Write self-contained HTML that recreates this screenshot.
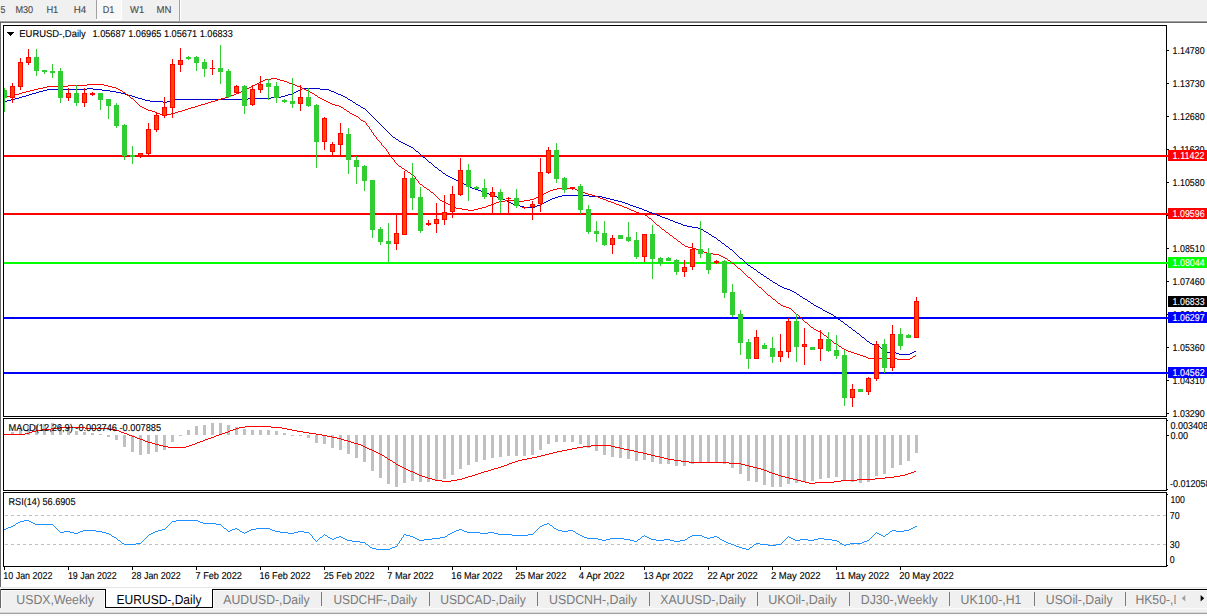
<!DOCTYPE html>
<html><head><meta charset="utf-8"><title>EURUSD-,Daily</title>
<style>html,body{margin:0;padding:0;background:#fff;overflow:hidden}svg{display:block}text{font-family:"Liberation Sans",sans-serif}</style>
</head><body>
<svg width="1207" height="616" viewBox="0 0 1207 616" shape-rendering="crispEdges" font-family="Liberation Sans, sans-serif">
<rect x="0" y="0" width="1207" height="616" fill="#fff" />
<rect x="0" y="0" width="1207" height="21" fill="#f0f0f0" />
<rect x="0" y="20" width="1207" height="1" fill="#f6f6f6" />
<rect x="0" y="21" width="1207" height="1" fill="#a0a0a0" />
<rect x="0" y="22" width="1207" height="1" fill="#696969" />
<rect x="97" y="0" width="24" height="19" fill="#f8f8f8" />
<rect x="96" y="0" width="1" height="19" fill="#a0a0a0" />
<rect x="96" y="19" width="26" height="1" fill="#fff" />
<rect x="121" y="0" width="1" height="20" fill="#fff" />
<rect x="179" y="0" width="1" height="22" fill="#a0a0a0" />
<rect x="180" y="0" width="1" height="21" fill="#fff" />
<text x="0.5" y="13" font-size="10" fill="#4a4a4a" stroke="#4a4a4a" stroke-width="0.12" text-anchor="start" textLength="4.9" lengthAdjust="spacingAndGlyphs"  text-rendering="geometricPrecision" xml:space="preserve">5</text>
<text x="15.4" y="13" font-size="10" fill="#4a4a4a" stroke="#4a4a4a" stroke-width="0.12" text-anchor="start" textLength="17.7" lengthAdjust="spacingAndGlyphs"  text-rendering="geometricPrecision" xml:space="preserve">M30</text>
<text x="46.4" y="13" font-size="10" fill="#4a4a4a" stroke="#4a4a4a" stroke-width="0.12" text-anchor="start" textLength="11.9" lengthAdjust="spacingAndGlyphs"  text-rendering="geometricPrecision" xml:space="preserve">H1</text>
<text x="73.7" y="13" font-size="10" fill="#4a4a4a" stroke="#4a4a4a" stroke-width="0.12" text-anchor="start" textLength="12.5" lengthAdjust="spacingAndGlyphs"  text-rendering="geometricPrecision" xml:space="preserve">H4</text>
<text x="102.7" y="13" font-size="10" fill="#4a4a4a" stroke="#4a4a4a" stroke-width="0.12" text-anchor="start" textLength="11.6" lengthAdjust="spacingAndGlyphs"  text-rendering="geometricPrecision" xml:space="preserve">D1</text>
<text x="130" y="13" font-size="10" fill="#4a4a4a" stroke="#4a4a4a" stroke-width="0.12" text-anchor="start" textLength="14.2" lengthAdjust="spacingAndGlyphs"  text-rendering="geometricPrecision" xml:space="preserve">W1</text>
<text x="156.6" y="13" font-size="10" fill="#4a4a4a" stroke="#4a4a4a" stroke-width="0.12" text-anchor="start" textLength="14.9" lengthAdjust="spacingAndGlyphs"  text-rendering="geometricPrecision" xml:space="preserve">MN</text>
<rect x="0" y="23" width="1" height="564" fill="#696969" />
<clipPath id="cm"><rect x="4" y="26" width="1162" height="390"/></clipPath>
<clipPath id="c2"><rect x="4" y="419" width="1162" height="71"/></clipPath>
<clipPath id="c3"><rect x="4" y="493" width="1162" height="73"/></clipPath>
<g clip-path="url(#cm)">
<rect x="4" y="155" width="1163" height="2" fill="#ff0000" />
<rect x="4" y="213" width="1163" height="2" fill="#ff0000" />
<rect x="4" y="262" width="1163" height="2" fill="#00ff00" />
<rect x="4" y="317" width="1163" height="2" fill="#0000ff" />
<rect x="4" y="372" width="1163" height="2" fill="#0000ff" />
<path fill="#0000cd" d="M87 88h6v1h-6zM302 88h18v1h-18zM47 89h40v1h-40zM93 89h9v1h-9zM300 89h2v1h-2zM320 89h9v1h-9zM43 90h4v1h-4zM102 90h8v1h-8zM298 90h2v1h-2zM329 90h2v1h-2zM39 91h4v1h-4zM110 91h6v1h-6zM296 91h2v1h-2zM331 91h3v1h-3zM36 92h3v1h-3zM116 92h5v1h-5zM294 92h2v1h-2zM334 92h2v1h-2zM32 93h4v1h-4zM121 93h4v1h-4zM292 93h2v1h-2zM336 93h2v1h-2zM29 94h3v1h-3zM125 94h3v1h-3zM288 94h4v1h-4zM338 94h3v1h-3zM26 95h3v1h-3zM128 95h4v1h-4zM285 95h3v1h-3zM341 95h2v1h-2zM22 96h4v1h-4zM132 96h3v1h-3zM281 96h4v1h-4zM343 96h2v1h-2zM19 97h3v1h-3zM135 97h3v1h-3zM271 97h10v1h-10zM345 97h2v1h-2zM15 98h4v1h-4zM138 98h4v1h-4zM248 98h23v1h-23zM347 98h1v1h-1zM11 99h4v1h-4zM142 99h3v1h-3zM175 99h73v1h-73zM348 99h2v1h-2zM7 100h4v1h-4zM145 100h5v1h-5zM171 100h4v1h-4zM350 100h2v1h-2zM4 101h3v1h-3zM150 101h13v1h-13zM167 101h4v1h-4zM352 101h1v1h-1zM163 102h4v1h-4zM353 102h2v1h-2zM355 103h1v1h-1zM356 104h2v1h-2zM358 105h2v1h-2zM360 106h1v1h-1zM361 107h2v1h-2zM363 108h2v1h-2zM365 109h1v1h-1zM366 110h1v1h-1zM367 111h1v1h-1zM368 112h1v1h-1zM369 113h1v1h-1zM370 114h1v1h-1zM371 115h1v1h-1zM372 116h1v1h-1zM373 117h1v1h-1zM374 118h1v1h-1zM375 119h1v1h-1zM376 120h1v1h-1zM377 121h1v1h-1zM378 122h1v1h-1zM379 123h1v1h-1zM380 124h1v1h-1zM381 125h1v1h-1zM382 126h1v1h-1zM383 127h1v1h-1zM384 128h1v1h-1zM385 129h1v1h-1zM386 130h1v1h-1zM387 131h1v1h-1zM388 132h1v1h-1zM389 133h1v1h-1zM390 134h1v1h-1zM391 135h1v1h-1zM392 136h1v1h-1zM393 137h2v1h-2zM395 138h1v1h-1zM396 139h2v1h-2zM398 140h1v1h-1zM399 141h2v1h-2zM401 142h2v1h-2zM403 143h2v1h-2zM405 144h2v1h-2zM407 145h2v1h-2zM409 146h2v1h-2zM411 147h2v1h-2zM413 148h1v1h-1zM414 149h1v1h-1zM415 150h1v1h-1zM416 151h2v1h-2zM418 152h1v1h-1zM419 153h1v1h-1zM420 154h1v1h-1zM421 155h1v1h-1zM422 156h1v1h-1zM423 157h2v1h-2zM425 158h1v1h-1zM426 159h1v1h-1zM427 160h1v1h-1zM428 161h1v1h-1zM429 162h2v1h-2zM431 163h1v1h-1zM432 164h1v1h-1zM433 165h1v1h-1zM434 166h1v1h-1zM435 167h2v1h-2zM437 168h1v1h-1zM438 169h1v1h-1zM439 170h2v1h-2zM441 171h1v1h-1zM442 172h1v1h-1zM443 173h2v1h-2zM445 174h1v1h-1zM446 175h2v1h-2zM448 176h2v1h-2zM450 177h2v1h-2zM452 178h2v1h-2zM454 179h2v1h-2zM456 180h2v1h-2zM458 181h2v1h-2zM460 182h2v1h-2zM462 183h2v1h-2zM464 184h2v1h-2zM466 185h2v1h-2zM468 186h2v1h-2zM470 187h2v1h-2zM472 188h3v1h-3zM475 189h3v1h-3zM478 190h3v1h-3zM481 191h2v1h-2zM483 192h3v1h-3zM486 193h3v1h-3zM489 194h3v1h-3zM492 195h3v1h-3zM562 195h27v1h-27zM495 196h2v1h-2zM558 196h4v1h-4zM589 196h13v1h-13zM497 197h3v1h-3zM555 197h3v1h-3zM602 197h4v1h-4zM500 198h3v1h-3zM552 198h3v1h-3zM606 198h4v1h-4zM503 199h2v1h-2zM550 199h2v1h-2zM610 199h4v1h-4zM505 200h2v1h-2zM548 200h2v1h-2zM614 200h4v1h-4zM507 201h2v1h-2zM546 201h2v1h-2zM618 201h4v1h-4zM509 202h2v1h-2zM544 202h2v1h-2zM622 202h3v1h-3zM511 203h2v1h-2zM542 203h2v1h-2zM625 203h3v1h-3zM513 204h3v1h-3zM540 204h2v1h-2zM628 204h2v1h-2zM516 205h4v1h-4zM537 205h3v1h-3zM630 205h3v1h-3zM520 206h4v1h-4zM535 206h2v1h-2zM633 206h3v1h-3zM524 207h11v1h-11zM636 207h3v1h-3zM639 208h3v1h-3zM642 209h2v1h-2zM644 210h3v1h-3zM647 211h2v1h-2zM649 212h3v1h-3zM652 213h3v1h-3zM655 214h2v1h-2zM657 215h3v1h-3zM660 216h2v1h-2zM662 217h3v1h-3zM665 218h3v1h-3zM668 219h2v1h-2zM670 220h3v1h-3zM673 221h2v1h-2zM675 222h3v1h-3zM678 223h3v1h-3zM681 224h2v1h-2zM683 225h4v1h-4zM687 226h5v1h-5zM692 227h6v1h-6zM698 228h3v1h-3zM701 229h2v1h-2zM703 230h1v1h-1zM704 231h2v1h-2zM706 232h2v1h-2zM708 233h1v1h-1zM709 234h2v1h-2zM711 235h1v1h-1zM712 236h2v1h-2zM714 237h2v1h-2zM716 238h1v1h-1zM717 239h1v1h-1zM718 240h2v1h-2zM720 241h1v1h-1zM721 242h1v1h-1zM722 243h2v1h-2zM724 244h1v1h-1zM725 245h1v1h-1zM726 246h2v1h-2zM728 247h1v1h-1zM729 248h1v1h-1zM730 249h2v1h-2zM732 250h1v1h-1zM733 251h1v1h-1zM734 252h1v1h-1zM735 253h1v1h-1zM736 254h1v1h-1zM737 255h1v1h-1zM738 256h1v1h-1zM739 257h1v1h-1zM740 258h2v1h-2zM742 259h1v1h-1zM743 260h1v1h-1zM744 261h1v1h-1zM745 262h1v1h-1zM746 263h1v1h-1zM747 264h1v1h-1zM748 265h2v1h-2zM750 266h1v1h-1zM751 267h2v1h-2zM753 268h1v1h-1zM754 269h2v1h-2zM756 270h1v1h-1zM757 271h1v1h-1zM758 272h2v1h-2zM760 273h1v1h-1zM761 274h2v1h-2zM763 275h1v1h-1zM764 276h2v1h-2zM766 277h1v1h-1zM767 278h2v1h-2zM769 279h1v1h-1zM770 280h2v1h-2zM772 281h1v1h-1zM773 282h2v1h-2zM775 283h2v1h-2zM777 284h1v1h-1zM778 285h2v1h-2zM780 286h2v1h-2zM782 287h2v1h-2zM784 288h3v1h-3zM787 289h3v1h-3zM790 290h2v1h-2zM792 291h2v1h-2zM794 292h2v1h-2zM796 293h1v1h-1zM797 294h2v1h-2zM799 295h1v1h-1zM800 296h2v1h-2zM802 297h1v1h-1zM803 298h2v1h-2zM805 299h2v1h-2zM807 300h1v1h-1zM808 301h2v1h-2zM810 302h1v1h-1zM811 303h2v1h-2zM813 304h1v1h-1zM814 305h2v1h-2zM816 306h2v1h-2zM818 307h2v1h-2zM820 308h2v1h-2zM822 309h1v1h-1zM823 310h2v1h-2zM825 311h2v1h-2zM827 312h2v1h-2zM829 313h2v1h-2zM831 314h2v1h-2zM833 315h1v1h-1zM834 316h2v1h-2zM836 317h1v1h-1zM837 318h1v1h-1zM838 319h2v1h-2zM840 320h1v1h-1zM841 321h2v1h-2zM843 322h1v1h-1zM844 323h1v1h-1zM845 324h2v1h-2zM847 325h1v1h-1zM848 326h1v1h-1zM849 327h2v1h-2zM851 328h1v1h-1zM852 329h1v1h-1zM853 330h2v1h-2zM855 331h1v1h-1zM856 332h1v1h-1zM857 333h2v1h-2zM859 334h1v1h-1zM860 335h1v1h-1zM861 336h1v1h-1zM862 337h2v1h-2zM864 338h1v1h-1zM865 339h1v1h-1zM866 340h1v1h-1zM867 341h2v1h-2zM869 342h1v1h-1zM870 343h2v1h-2zM872 344h4v1h-4zM876 345h3v1h-3zM879 346h1v1h-1zM880 347h1v1h-1zM881 348h1v1h-1zM882 349h2v1h-2zM884 350h1v1h-1zM885 351h1v1h-1zM914 351h2v1h-2zM886 352h10v1h-10zM912 352h2v1h-2zM896 353h3v1h-3zM910 353h2v1h-2zM899 354h11v1h-11z"/>
<path fill="#ff0000" d="M271 78h6v1h-6zM265 79h6v1h-6zM277 79h3v1h-3zM263 80h2v1h-2zM280 80h4v1h-4zM261 81h2v1h-2zM284 81h3v1h-3zM259 82h2v1h-2zM287 82h2v1h-2zM257 83h2v1h-2zM289 83h3v1h-3zM87 84h17v1h-17zM255 84h2v1h-2zM292 84h3v1h-3zM68 85h19v1h-19zM104 85h4v1h-4zM253 85h2v1h-2zM295 85h2v1h-2zM47 86h21v1h-21zM108 86h4v1h-4zM251 86h2v1h-2zM297 86h3v1h-3zM43 87h4v1h-4zM112 87h4v1h-4zM249 87h2v1h-2zM300 87h2v1h-2zM38 88h5v1h-5zM116 88h2v1h-2zM247 88h2v1h-2zM302 88h2v1h-2zM34 89h4v1h-4zM118 89h2v1h-2zM245 89h2v1h-2zM304 89h2v1h-2zM30 90h4v1h-4zM120 90h2v1h-2zM243 90h2v1h-2zM306 90h2v1h-2zM26 91h4v1h-4zM122 91h1v1h-1zM241 91h2v1h-2zM308 91h2v1h-2zM22 92h4v1h-4zM123 92h2v1h-2zM239 92h2v1h-2zM310 92h2v1h-2zM19 93h3v1h-3zM125 93h1v1h-1zM236 93h3v1h-3zM312 93h2v1h-2zM15 94h4v1h-4zM126 94h1v1h-1zM234 94h2v1h-2zM314 94h1v1h-1zM11 95h4v1h-4zM127 95h2v1h-2zM231 95h3v1h-3zM315 95h2v1h-2zM7 96h4v1h-4zM129 96h1v1h-1zM228 96h3v1h-3zM317 96h1v1h-1zM4 97h3v1h-3zM130 97h1v1h-1zM225 97h3v1h-3zM318 97h2v1h-2zM131 98h2v1h-2zM221 98h4v1h-4zM320 98h2v1h-2zM133 99h1v1h-1zM218 99h3v1h-3zM322 99h2v1h-2zM134 100h1v1h-1zM215 100h3v1h-3zM324 100h2v1h-2zM135 101h1v1h-1zM211 101h4v1h-4zM326 101h2v1h-2zM136 102h1v1h-1zM208 102h3v1h-3zM328 102h2v1h-2zM137 103h1v1h-1zM205 103h3v1h-3zM330 103h2v1h-2zM138 104h1v1h-1zM201 104h4v1h-4zM332 104h3v1h-3zM139 105h1v1h-1zM198 105h3v1h-3zM335 105h4v1h-4zM140 106h2v1h-2zM195 106h3v1h-3zM339 106h2v1h-2zM142 107h2v1h-2zM191 107h4v1h-4zM341 107h2v1h-2zM144 108h2v1h-2zM188 108h3v1h-3zM343 108h1v1h-1zM146 109h2v1h-2zM185 109h3v1h-3zM344 109h2v1h-2zM148 110h4v1h-4zM182 110h3v1h-3zM346 110h1v1h-1zM152 111h3v1h-3zM178 111h4v1h-4zM347 111h2v1h-2zM155 112h2v1h-2zM175 112h3v1h-3zM349 112h1v1h-1zM157 113h3v1h-3zM171 113h4v1h-4zM350 113h2v1h-2zM160 114h4v1h-4zM167 114h4v1h-4zM352 114h2v1h-2zM164 115h3v1h-3zM354 115h2v1h-2zM356 116h2v1h-2zM358 117h1v1h-1zM359 118h1v1h-1zM360 119h1v1h-1zM361 120h2v1h-2zM363 121h2v1h-2zM365 122h1v1h-1zM366 123h1v1h-1zM366 124h1v1h-1zM367 125h1v1h-1zM368 126h1v1h-1zM369 127h1v1h-1zM369 128h1v1h-1zM370 129h1v1h-1zM371 130h1v1h-1zM371 131h1v1h-1zM372 132h1v1h-1zM373 133h1v1h-1zM373 134h1v1h-1zM374 135h1v1h-1zM375 136h1v1h-1zM376 137h1v1h-1zM376 138h1v1h-1zM377 139h1v1h-1zM378 140h1v1h-1zM379 141h1v1h-1zM380 142h1v1h-1zM381 143h1v1h-1zM381 144h1v1h-1zM382 145h1v1h-1zM383 146h1v1h-1zM384 147h1v1h-1zM385 148h1v1h-1zM386 149h1v1h-1zM386 150h1v1h-1zM387 151h1v1h-1zM388 152h1v1h-1zM388 153h1v1h-1zM389 154h1v1h-1zM389 155h1v1h-1zM390 156h1v1h-1zM391 157h1v1h-1zM392 158h1v1h-1zM393 159h1v1h-1zM394 160h1v1h-1zM394 161h1v1h-1zM395 162h1v1h-1zM396 163h1v1h-1zM397 164h1v1h-1zM398 165h1v1h-1zM399 166h2v1h-2zM401 167h1v1h-1zM402 168h2v1h-2zM404 169h1v1h-1zM405 170h2v1h-2zM407 171h1v1h-1zM408 172h2v1h-2zM410 173h1v1h-1zM411 174h2v1h-2zM413 175h1v1h-1zM414 176h1v1h-1zM415 177h1v1h-1zM415 178h1v1h-1zM416 179h1v1h-1zM417 180h1v1h-1zM418 181h1v1h-1zM418 182h1v1h-1zM419 183h1v1h-1zM420 184h2v1h-2zM422 185h1v1h-1zM423 186h1v1h-1zM424 187h2v1h-2zM426 188h1v1h-1zM557 188h18v1h-18zM427 189h2v1h-2zM553 189h4v1h-4zM575 189h2v1h-2zM429 190h1v1h-1zM550 190h3v1h-3zM577 190h3v1h-3zM430 191h1v1h-1zM548 191h2v1h-2zM580 191h3v1h-3zM431 192h2v1h-2zM546 192h2v1h-2zM583 192h2v1h-2zM433 193h1v1h-1zM544 193h2v1h-2zM585 193h3v1h-3zM434 194h1v1h-1zM542 194h2v1h-2zM588 194h4v1h-4zM435 195h1v1h-1zM540 195h2v1h-2zM592 195h3v1h-3zM436 196h1v1h-1zM538 196h2v1h-2zM595 196h3v1h-3zM437 197h1v1h-1zM536 197h2v1h-2zM598 197h2v1h-2zM438 198h1v1h-1zM534 198h2v1h-2zM600 198h3v1h-3zM439 199h1v1h-1zM530 199h4v1h-4zM603 199h3v1h-3zM440 200h2v1h-2zM505 200h10v1h-10zM524 200h6v1h-6zM606 200h2v1h-2zM442 201h2v1h-2zM499 201h6v1h-6zM515 201h9v1h-9zM608 201h3v1h-3zM444 202h2v1h-2zM496 202h3v1h-3zM611 202h3v1h-3zM446 203h2v1h-2zM494 203h2v1h-2zM614 203h2v1h-2zM448 204h2v1h-2zM491 204h3v1h-3zM616 204h3v1h-3zM450 205h1v1h-1zM488 205h3v1h-3zM619 205h3v1h-3zM451 206h2v1h-2zM486 206h2v1h-2zM622 206h2v1h-2zM453 207h3v1h-3zM482 207h4v1h-4zM624 207h3v1h-3zM456 208h6v1h-6zM478 208h4v1h-4zM627 208h2v1h-2zM462 209h6v1h-6zM474 209h4v1h-4zM629 209h2v1h-2zM468 210h6v1h-6zM631 210h3v1h-3zM634 211h2v1h-2zM636 212h3v1h-3zM639 213h3v1h-3zM642 214h3v1h-3zM645 215h2v1h-2zM647 216h1v1h-1zM648 217h1v1h-1zM649 218h2v1h-2zM651 219h1v1h-1zM652 220h1v1h-1zM653 221h1v1h-1zM654 222h1v1h-1zM655 223h1v1h-1zM656 224h1v1h-1zM657 225h2v1h-2zM659 226h1v1h-1zM660 227h1v1h-1zM661 228h1v1h-1zM662 229h2v1h-2zM664 230h1v1h-1zM665 231h1v1h-1zM666 232h2v1h-2zM668 233h1v1h-1zM669 234h1v1h-1zM670 235h2v1h-2zM672 236h1v1h-1zM673 237h1v1h-1zM674 238h2v1h-2zM676 239h1v1h-1zM677 240h1v1h-1zM678 241h2v1h-2zM680 242h1v1h-1zM681 243h1v1h-1zM682 244h2v1h-2zM684 245h1v1h-1zM685 246h3v1h-3zM688 247h4v1h-4zM692 248h4v1h-4zM696 249h3v1h-3zM699 250h2v1h-2zM701 251h3v1h-3zM704 252h3v1h-3zM707 253h6v1h-6zM713 254h6v1h-6zM719 255h2v1h-2zM721 256h2v1h-2zM723 257h2v1h-2zM725 258h2v1h-2zM727 259h1v1h-1zM728 260h2v1h-2zM730 261h1v1h-1zM731 262h1v1h-1zM732 263h2v1h-2zM734 264h1v1h-1zM735 265h1v1h-1zM736 266h1v1h-1zM737 267h1v1h-1zM738 268h2v1h-2zM740 269h1v1h-1zM741 270h1v1h-1zM742 271h1v1h-1zM743 272h1v1h-1zM744 273h1v1h-1zM745 274h1v1h-1zM746 275h1v1h-1zM747 276h1v1h-1zM748 277h2v1h-2zM750 278h1v1h-1zM751 279h1v1h-1zM752 280h1v1h-1zM753 281h1v1h-1zM754 282h1v1h-1zM755 283h1v1h-1zM756 284h1v1h-1zM757 285h1v1h-1zM758 286h1v1h-1zM759 287h2v1h-2zM761 288h1v1h-1zM762 289h1v1h-1zM763 290h1v1h-1zM764 291h1v1h-1zM765 292h1v1h-1zM766 293h1v1h-1zM767 294h1v1h-1zM768 295h2v1h-2zM770 296h1v1h-1zM771 297h1v1h-1zM772 298h1v1h-1zM773 299h2v1h-2zM775 300h1v1h-1zM776 301h1v1h-1zM777 302h1v1h-1zM778 303h2v1h-2zM780 304h1v1h-1zM781 305h2v1h-2zM783 306h3v1h-3zM786 307h3v1h-3zM789 308h2v1h-2zM791 309h1v1h-1zM792 310h1v1h-1zM793 311h1v1h-1zM794 312h1v1h-1zM795 313h1v1h-1zM796 314h2v1h-2zM798 315h1v1h-1zM799 316h1v1h-1zM800 317h1v1h-1zM801 318h1v1h-1zM802 319h1v1h-1zM803 320h1v1h-1zM804 321h1v1h-1zM805 322h2v1h-2zM807 323h1v1h-1zM808 324h1v1h-1zM809 325h1v1h-1zM810 326h1v1h-1zM811 327h2v1h-2zM813 328h1v1h-1zM814 329h2v1h-2zM816 330h2v1h-2zM818 331h2v1h-2zM820 332h2v1h-2zM822 333h1v1h-1zM823 334h1v1h-1zM824 335h2v1h-2zM826 336h1v1h-1zM827 337h1v1h-1zM828 338h1v1h-1zM829 339h1v1h-1zM830 340h2v1h-2zM832 341h1v1h-1zM833 342h1v1h-1zM834 343h2v1h-2zM836 344h2v1h-2zM838 345h1v1h-1zM839 346h2v1h-2zM841 347h1v1h-1zM842 348h2v1h-2zM844 349h2v1h-2zM846 350h2v1h-2zM848 351h3v1h-3zM851 352h3v1h-3zM854 353h3v1h-3zM857 354h3v1h-3zM860 355h3v1h-3zM915 355h1v1h-1zM863 356h3v1h-3zM913 356h2v1h-2zM866 357h2v1h-2zM912 357h1v1h-1zM868 358h29v1h-29zM910 358h2v1h-2zM897 359h13v1h-13z"/>
<rect x="4" y="88" width="1" height="24" fill="#32cd32" />
<rect x="2" y="90" width="5" height="8" fill="#32cd32" />
<rect x="12" y="83" width="1" height="20" fill="#ff0000" />
<rect x="10" y="86" width="5" height="12" fill="#ff0000" />
<rect x="11" y="87" width="3" height="10" fill="#ff4500" />
<rect x="20" y="58" width="1" height="32" fill="#ff0000" />
<rect x="18" y="62" width="5" height="25" fill="#ff0000" />
<rect x="19" y="63" width="3" height="23" fill="#ff4500" />
<rect x="28" y="49" width="1" height="16" fill="#ff0000" />
<rect x="26" y="57" width="5" height="6" fill="#ff0000" />
<rect x="27" y="58" width="3" height="4" fill="#ff4500" />
<rect x="36" y="49" width="1" height="27" fill="#32cd32" />
<rect x="34" y="57" width="5" height="14" fill="#32cd32" />
<rect x="44" y="70" width="1" height="4" fill="#32cd32" />
<rect x="42" y="70" width="5" height="2" fill="#32cd32" />
<rect x="52" y="64" width="1" height="14" fill="#32cd32" />
<rect x="50" y="71" width="5" height="2" fill="#32cd32" />
<rect x="60" y="68" width="1" height="35" fill="#32cd32" />
<rect x="58" y="71" width="5" height="27" fill="#32cd32" />
<rect x="68" y="88" width="1" height="13" fill="#ff0000" />
<rect x="66" y="93" width="5" height="5" fill="#ff0000" />
<rect x="67" y="94" width="3" height="3" fill="#ff4500" />
<rect x="76" y="85" width="1" height="21" fill="#32cd32" />
<rect x="74" y="93" width="5" height="10" fill="#32cd32" />
<rect x="84" y="88" width="1" height="19" fill="#ff0000" />
<rect x="82" y="93" width="5" height="10" fill="#ff0000" />
<rect x="83" y="94" width="3" height="8" fill="#ff4500" />
<rect x="92" y="92" width="1" height="4" fill="#ff0000" />
<rect x="90" y="93" width="5" height="2" fill="#ff0000" />
<rect x="100" y="93" width="1" height="17" fill="#32cd32" />
<rect x="98" y="93" width="5" height="7" fill="#32cd32" />
<rect x="108" y="99" width="1" height="20" fill="#32cd32" />
<rect x="106" y="99" width="5" height="7" fill="#32cd32" />
<rect x="116" y="103" width="1" height="25" fill="#32cd32" />
<rect x="114" y="105" width="5" height="21" fill="#32cd32" />
<rect x="124" y="124" width="1" height="36" fill="#32cd32" />
<rect x="122" y="125" width="5" height="31" fill="#32cd32" />
<rect x="132" y="146" width="1" height="18" fill="#32cd32" />
<rect x="130" y="155" width="5" height="2" fill="#32cd32" />
<rect x="140" y="153" width="1" height="5" fill="#ff0000" />
<rect x="138" y="153" width="5" height="3" fill="#ff0000" />
<rect x="139" y="154" width="3" height="1" fill="#ff4500" />
<rect x="148" y="123" width="1" height="32" fill="#ff0000" />
<rect x="146" y="129" width="5" height="25" fill="#ff0000" />
<rect x="147" y="130" width="3" height="23" fill="#ff4500" />
<rect x="156" y="113" width="1" height="19" fill="#ff0000" />
<rect x="154" y="115" width="5" height="15" fill="#ff0000" />
<rect x="155" y="116" width="3" height="13" fill="#ff4500" />
<rect x="164" y="97" width="1" height="21" fill="#ff0000" />
<rect x="162" y="107" width="5" height="9" fill="#ff0000" />
<rect x="163" y="108" width="3" height="7" fill="#ff4500" />
<rect x="172" y="59" width="1" height="59" fill="#ff0000" />
<rect x="170" y="64" width="5" height="44" fill="#ff0000" />
<rect x="171" y="65" width="3" height="42" fill="#ff4500" />
<rect x="180" y="48" width="1" height="24" fill="#ff0000" />
<rect x="178" y="60" width="5" height="5" fill="#ff0000" />
<rect x="179" y="61" width="3" height="3" fill="#ff4500" />
<rect x="188" y="56" width="1" height="4" fill="#32cd32" />
<rect x="186" y="57" width="5" height="2" fill="#32cd32" />
<rect x="196" y="56" width="1" height="15" fill="#32cd32" />
<rect x="194" y="57" width="5" height="6" fill="#32cd32" />
<rect x="204" y="59" width="1" height="18" fill="#32cd32" />
<rect x="202" y="62" width="5" height="7" fill="#32cd32" />
<rect x="212" y="60" width="1" height="15" fill="#ff0000" />
<rect x="210" y="68" width="5" height="1" fill="#ff0000" />
<rect x="220" y="45" width="1" height="39" fill="#32cd32" />
<rect x="218" y="68" width="5" height="4" fill="#32cd32" />
<rect x="228" y="69" width="1" height="29" fill="#32cd32" />
<rect x="226" y="71" width="5" height="26" fill="#32cd32" />
<rect x="236" y="85" width="1" height="9" fill="#ff0000" />
<rect x="234" y="86" width="5" height="7" fill="#ff0000" />
<rect x="235" y="87" width="3" height="5" fill="#ff4500" />
<rect x="244" y="85" width="1" height="29" fill="#32cd32" />
<rect x="242" y="86" width="5" height="20" fill="#32cd32" />
<rect x="252" y="85" width="1" height="21" fill="#ff0000" />
<rect x="250" y="89" width="5" height="16" fill="#ff0000" />
<rect x="251" y="90" width="3" height="14" fill="#ff4500" />
<rect x="260" y="76" width="1" height="17" fill="#ff0000" />
<rect x="258" y="84" width="5" height="6" fill="#ff0000" />
<rect x="259" y="85" width="3" height="4" fill="#ff4500" />
<rect x="268" y="79" width="1" height="21" fill="#32cd32" />
<rect x="266" y="83" width="5" height="4" fill="#32cd32" />
<rect x="276" y="82" width="1" height="21" fill="#32cd32" />
<rect x="274" y="86" width="5" height="12" fill="#32cd32" />
<rect x="284" y="99" width="1" height="4" fill="#32cd32" />
<rect x="282" y="100" width="5" height="2" fill="#32cd32" />
<rect x="292" y="78" width="1" height="30" fill="#32cd32" />
<rect x="290" y="101" width="5" height="3" fill="#32cd32" />
<rect x="300" y="85" width="1" height="26" fill="#ff0000" />
<rect x="298" y="97" width="5" height="7" fill="#ff0000" />
<rect x="299" y="98" width="3" height="5" fill="#ff4500" />
<rect x="308" y="88" width="1" height="19" fill="#32cd32" />
<rect x="306" y="97" width="5" height="9" fill="#32cd32" />
<rect x="316" y="104" width="1" height="64" fill="#32cd32" />
<rect x="314" y="105" width="5" height="37" fill="#32cd32" />
<rect x="324" y="117" width="1" height="33" fill="#ff0000" />
<rect x="322" y="118" width="5" height="24" fill="#ff0000" />
<rect x="323" y="119" width="3" height="22" fill="#ff4500" />
<rect x="332" y="142" width="1" height="13" fill="#ff0000" />
<rect x="330" y="144" width="5" height="8" fill="#ff0000" />
<rect x="331" y="145" width="3" height="6" fill="#ff4500" />
<rect x="340" y="123" width="1" height="32" fill="#ff0000" />
<rect x="338" y="133" width="5" height="12" fill="#ff0000" />
<rect x="339" y="134" width="3" height="10" fill="#ff4500" />
<rect x="348" y="128" width="1" height="46" fill="#32cd32" />
<rect x="346" y="134" width="5" height="26" fill="#32cd32" />
<rect x="356" y="156" width="1" height="28" fill="#32cd32" />
<rect x="354" y="160" width="5" height="7" fill="#32cd32" />
<rect x="364" y="165" width="1" height="26" fill="#32cd32" />
<rect x="362" y="166" width="5" height="15" fill="#32cd32" />
<rect x="372" y="180" width="1" height="58" fill="#32cd32" />
<rect x="370" y="180" width="5" height="50" fill="#32cd32" />
<rect x="380" y="227" width="1" height="18" fill="#32cd32" />
<rect x="378" y="229" width="5" height="13" fill="#32cd32" />
<rect x="388" y="223" width="1" height="39" fill="#32cd32" />
<rect x="386" y="241" width="5" height="3" fill="#32cd32" />
<rect x="396" y="215" width="1" height="35" fill="#ff0000" />
<rect x="394" y="233" width="5" height="11" fill="#ff0000" />
<rect x="395" y="234" width="3" height="9" fill="#ff4500" />
<rect x="404" y="171" width="1" height="64" fill="#ff0000" />
<rect x="402" y="178" width="5" height="57" fill="#ff0000" />
<rect x="403" y="179" width="3" height="55" fill="#ff4500" />
<rect x="412" y="163" width="1" height="47" fill="#32cd32" />
<rect x="410" y="178" width="5" height="20" fill="#32cd32" />
<rect x="420" y="187" width="1" height="46" fill="#32cd32" />
<rect x="418" y="197" width="5" height="34" fill="#32cd32" />
<rect x="428" y="220" width="1" height="6" fill="#ff0000" />
<rect x="426" y="223" width="5" height="2" fill="#ff0000" />
<rect x="436" y="203" width="1" height="30" fill="#ff0000" />
<rect x="434" y="219" width="5" height="5" fill="#ff0000" />
<rect x="435" y="220" width="3" height="3" fill="#ff4500" />
<rect x="444" y="195" width="1" height="30" fill="#ff0000" />
<rect x="442" y="212" width="5" height="8" fill="#ff0000" />
<rect x="443" y="213" width="3" height="6" fill="#ff4500" />
<rect x="452" y="186" width="1" height="32" fill="#ff0000" />
<rect x="450" y="194" width="5" height="18" fill="#ff0000" />
<rect x="451" y="195" width="3" height="16" fill="#ff4500" />
<rect x="460" y="158" width="1" height="38" fill="#ff0000" />
<rect x="458" y="170" width="5" height="25" fill="#ff0000" />
<rect x="459" y="171" width="3" height="23" fill="#ff4500" />
<rect x="468" y="164" width="1" height="37" fill="#32cd32" />
<rect x="466" y="170" width="5" height="17" fill="#32cd32" />
<rect x="476" y="186" width="1" height="3" fill="#32cd32" />
<rect x="474" y="187" width="5" height="2" fill="#32cd32" />
<rect x="484" y="179" width="1" height="20" fill="#32cd32" />
<rect x="482" y="188" width="5" height="9" fill="#32cd32" />
<rect x="492" y="187" width="1" height="26" fill="#ff0000" />
<rect x="490" y="192" width="5" height="5" fill="#ff0000" />
<rect x="491" y="193" width="3" height="3" fill="#ff4500" />
<rect x="500" y="189" width="1" height="24" fill="#32cd32" />
<rect x="498" y="192" width="5" height="8" fill="#32cd32" />
<rect x="508" y="197" width="1" height="16" fill="#ff0000" />
<rect x="506" y="198" width="5" height="1" fill="#ff0000" />
<rect x="516" y="189" width="1" height="19" fill="#32cd32" />
<rect x="514" y="198" width="5" height="8" fill="#32cd32" />
<rect x="524" y="207" width="1" height="2" fill="#ff0000" />
<rect x="522" y="207" width="5" height="1" fill="#ff0000" />
<rect x="532" y="201" width="1" height="19" fill="#ff0000" />
<rect x="530" y="204" width="5" height="3" fill="#ff0000" />
<rect x="531" y="205" width="3" height="1" fill="#ff4500" />
<rect x="540" y="158" width="1" height="54" fill="#ff0000" />
<rect x="538" y="172" width="5" height="32" fill="#ff0000" />
<rect x="539" y="173" width="3" height="30" fill="#ff4500" />
<rect x="548" y="147" width="1" height="27" fill="#ff0000" />
<rect x="546" y="150" width="5" height="23" fill="#ff0000" />
<rect x="547" y="151" width="3" height="21" fill="#ff4500" />
<rect x="556" y="143" width="1" height="40" fill="#32cd32" />
<rect x="554" y="150" width="5" height="29" fill="#32cd32" />
<rect x="564" y="177" width="1" height="16" fill="#32cd32" />
<rect x="562" y="178" width="5" height="12" fill="#32cd32" />
<rect x="572" y="187" width="1" height="3" fill="#ff0000" />
<rect x="570" y="187" width="5" height="1" fill="#ff0000" />
<rect x="580" y="184" width="1" height="30" fill="#32cd32" />
<rect x="578" y="186" width="5" height="24" fill="#32cd32" />
<rect x="588" y="205" width="1" height="29" fill="#32cd32" />
<rect x="586" y="209" width="5" height="23" fill="#32cd32" />
<rect x="596" y="221" width="1" height="21" fill="#32cd32" />
<rect x="594" y="231" width="5" height="3" fill="#32cd32" />
<rect x="604" y="221" width="1" height="25" fill="#32cd32" />
<rect x="602" y="233" width="5" height="12" fill="#32cd32" />
<rect x="612" y="235" width="1" height="19" fill="#ff0000" />
<rect x="610" y="238" width="5" height="7" fill="#ff0000" />
<rect x="611" y="239" width="3" height="5" fill="#ff4500" />
<rect x="620" y="235" width="1" height="4" fill="#32cd32" />
<rect x="618" y="235" width="5" height="4" fill="#32cd32" />
<rect x="628" y="222" width="1" height="20" fill="#32cd32" />
<rect x="626" y="237" width="5" height="4" fill="#32cd32" />
<rect x="636" y="232" width="1" height="27" fill="#32cd32" />
<rect x="634" y="240" width="5" height="17" fill="#32cd32" />
<rect x="644" y="234" width="1" height="28" fill="#ff0000" />
<rect x="642" y="234" width="5" height="23" fill="#ff0000" />
<rect x="643" y="235" width="3" height="21" fill="#ff4500" />
<rect x="652" y="225" width="1" height="54" fill="#32cd32" />
<rect x="650" y="234" width="5" height="25" fill="#32cd32" />
<rect x="660" y="257" width="1" height="9" fill="#32cd32" />
<rect x="658" y="258" width="5" height="5" fill="#32cd32" />
<rect x="668" y="257" width="1" height="4" fill="#32cd32" />
<rect x="666" y="258" width="5" height="3" fill="#32cd32" />
<rect x="676" y="259" width="1" height="16" fill="#32cd32" />
<rect x="674" y="260" width="5" height="12" fill="#32cd32" />
<rect x="684" y="260" width="1" height="17" fill="#ff0000" />
<rect x="682" y="267" width="5" height="5" fill="#ff0000" />
<rect x="683" y="268" width="3" height="3" fill="#ff4500" />
<rect x="692" y="243" width="1" height="27" fill="#ff0000" />
<rect x="690" y="249" width="5" height="18" fill="#ff0000" />
<rect x="691" y="250" width="3" height="16" fill="#ff4500" />
<rect x="700" y="221" width="1" height="37" fill="#32cd32" />
<rect x="698" y="249" width="5" height="5" fill="#32cd32" />
<rect x="708" y="248" width="1" height="26" fill="#32cd32" />
<rect x="706" y="253" width="5" height="17" fill="#32cd32" />
<rect x="716" y="260" width="1" height="4" fill="#ff0000" />
<rect x="714" y="261" width="5" height="2" fill="#ff0000" />
<rect x="724" y="260" width="1" height="38" fill="#32cd32" />
<rect x="722" y="261" width="5" height="32" fill="#32cd32" />
<rect x="732" y="284" width="1" height="33" fill="#32cd32" />
<rect x="730" y="292" width="5" height="23" fill="#32cd32" />
<rect x="740" y="310" width="1" height="45" fill="#32cd32" />
<rect x="738" y="314" width="5" height="29" fill="#32cd32" />
<rect x="748" y="339" width="1" height="30" fill="#32cd32" />
<rect x="746" y="342" width="5" height="17" fill="#32cd32" />
<rect x="756" y="330" width="1" height="29" fill="#ff0000" />
<rect x="754" y="337" width="5" height="22" fill="#ff0000" />
<rect x="755" y="338" width="3" height="20" fill="#ff4500" />
<rect x="764" y="343" width="1" height="6" fill="#32cd32" />
<rect x="762" y="345" width="5" height="4" fill="#32cd32" />
<rect x="772" y="337" width="1" height="26" fill="#32cd32" />
<rect x="770" y="348" width="5" height="9" fill="#32cd32" />
<rect x="780" y="334" width="1" height="28" fill="#ff0000" />
<rect x="778" y="351" width="5" height="6" fill="#ff0000" />
<rect x="779" y="352" width="3" height="4" fill="#ff4500" />
<rect x="788" y="318" width="1" height="40" fill="#ff0000" />
<rect x="786" y="321" width="5" height="31" fill="#ff0000" />
<rect x="787" y="322" width="3" height="29" fill="#ff4500" />
<rect x="796" y="314" width="1" height="48" fill="#32cd32" />
<rect x="794" y="321" width="5" height="26" fill="#32cd32" />
<rect x="804" y="328" width="1" height="37" fill="#ff0000" />
<rect x="802" y="344" width="5" height="3" fill="#ff0000" />
<rect x="803" y="345" width="3" height="1" fill="#ff4500" />
<rect x="812" y="347" width="1" height="3" fill="#32cd32" />
<rect x="810" y="347" width="5" height="3" fill="#32cd32" />
<rect x="820" y="330" width="1" height="31" fill="#ff0000" />
<rect x="818" y="339" width="5" height="10" fill="#ff0000" />
<rect x="819" y="340" width="3" height="8" fill="#ff4500" />
<rect x="828" y="332" width="1" height="20" fill="#32cd32" />
<rect x="826" y="339" width="5" height="12" fill="#32cd32" />
<rect x="836" y="335" width="1" height="24" fill="#32cd32" />
<rect x="834" y="350" width="5" height="6" fill="#32cd32" />
<rect x="844" y="350" width="1" height="56" fill="#32cd32" />
<rect x="842" y="355" width="5" height="43" fill="#32cd32" />
<rect x="852" y="384" width="1" height="23" fill="#ff0000" />
<rect x="850" y="389" width="5" height="9" fill="#ff0000" />
<rect x="851" y="390" width="3" height="7" fill="#ff4500" />
<rect x="860" y="389" width="1" height="3" fill="#32cd32" />
<rect x="858" y="389" width="5" height="3" fill="#32cd32" />
<rect x="868" y="377" width="1" height="18" fill="#ff0000" />
<rect x="866" y="378" width="5" height="14" fill="#ff0000" />
<rect x="867" y="379" width="3" height="12" fill="#ff4500" />
<rect x="876" y="341" width="1" height="40" fill="#ff0000" />
<rect x="874" y="344" width="5" height="35" fill="#ff0000" />
<rect x="875" y="345" width="3" height="33" fill="#ff4500" />
<rect x="884" y="339" width="1" height="34" fill="#32cd32" />
<rect x="882" y="344" width="5" height="24" fill="#32cd32" />
<rect x="892" y="325" width="1" height="46" fill="#ff0000" />
<rect x="890" y="334" width="5" height="34" fill="#ff0000" />
<rect x="891" y="335" width="3" height="32" fill="#ff4500" />
<rect x="900" y="328" width="1" height="22" fill="#32cd32" />
<rect x="898" y="334" width="5" height="12" fill="#32cd32" />
<rect x="908" y="334" width="1" height="4" fill="#32cd32" />
<rect x="906" y="335" width="5" height="3" fill="#32cd32" />
<rect x="916" y="297" width="1" height="41" fill="#ff0000" />
<rect x="914" y="301" width="5" height="37" fill="#ff0000" />
<rect x="915" y="302" width="3" height="35" fill="#ff4500" />
</g>
<rect x="3" y="25" width="1164" height="1" fill="#000" />
<rect x="3" y="416" width="1164" height="1" fill="#000" />
<rect x="3" y="25" width="1" height="392" fill="#000" />
<rect x="1166" y="25" width="1" height="392" fill="#000" />
<rect x="3" y="418" width="1164" height="1" fill="#000" />
<rect x="3" y="490" width="1164" height="1" fill="#000" />
<rect x="3" y="418" width="1" height="73" fill="#000" />
<rect x="1166" y="418" width="1" height="73" fill="#000" />
<rect x="3" y="492" width="1164" height="1" fill="#000" />
<rect x="3" y="566" width="1164" height="1" fill="#000" />
<rect x="3" y="492" width="1" height="75" fill="#000" />
<rect x="1166" y="492" width="1" height="75" fill="#000" />
<rect x="1166" y="155" width="2" height="2" fill="#ff0000" />
<rect x="1166" y="213" width="2" height="2" fill="#ff0000" />
<rect x="1166" y="262" width="2" height="2" fill="#00ff00" />
<rect x="1166" y="317" width="2" height="2" fill="#0000ff" />
<rect x="1166" y="372" width="2" height="2" fill="#0000ff" />
<path d="M7 32h7v1h-1v1h-1v1h-1v1h-1v-1h-1v-1h-1v-1h-1z" fill="#000"/>
<text x="19.3" y="37" font-size="10" fill="#000" stroke="#000" stroke-width="0.12" text-anchor="start" textLength="66.5" lengthAdjust="spacingAndGlyphs"  text-rendering="geometricPrecision" xml:space="preserve">EURUSD-,Daily</text>
<text x="92.5" y="37" font-size="10" fill="#000" stroke="#000" stroke-width="0.12" text-anchor="start" textLength="140.3" lengthAdjust="spacingAndGlyphs"  text-rendering="geometricPrecision" xml:space="preserve">1.05687 1.06965 1.05671 1.06833</text>
<rect x="1167" y="50" width="2" height="1" fill="#000" />
<text x="1172.6" y="54" font-size="10" fill="#000" stroke="#000" stroke-width="0.12" text-anchor="start" textLength="32" lengthAdjust="spacingAndGlyphs"  text-rendering="geometricPrecision" xml:space="preserve">1.14780</text>
<rect x="1167" y="83" width="2" height="1" fill="#000" />
<text x="1172.6" y="87" font-size="10" fill="#000" stroke="#000" stroke-width="0.12" text-anchor="start" textLength="32" lengthAdjust="spacingAndGlyphs"  text-rendering="geometricPrecision" xml:space="preserve">1.13730</text>
<rect x="1167" y="116" width="2" height="1" fill="#000" />
<text x="1172.6" y="120" font-size="10" fill="#000" stroke="#000" stroke-width="0.12" text-anchor="start" textLength="32" lengthAdjust="spacingAndGlyphs"  text-rendering="geometricPrecision" xml:space="preserve">1.12680</text>
<rect x="1167" y="149" width="2" height="1" fill="#000" />
<text x="1172.6" y="153" font-size="10" fill="#000" stroke="#000" stroke-width="0.12" text-anchor="start" textLength="32" lengthAdjust="spacingAndGlyphs"  text-rendering="geometricPrecision" xml:space="preserve">1.11630</text>
<rect x="1167" y="182" width="2" height="1" fill="#000" />
<text x="1172.6" y="186" font-size="10" fill="#000" stroke="#000" stroke-width="0.12" text-anchor="start" textLength="32" lengthAdjust="spacingAndGlyphs"  text-rendering="geometricPrecision" xml:space="preserve">1.10580</text>
<rect x="1167" y="215" width="2" height="1" fill="#000" />
<text x="1172.6" y="219" font-size="10" fill="#000" stroke="#000" stroke-width="0.12" text-anchor="start" textLength="32" lengthAdjust="spacingAndGlyphs"  text-rendering="geometricPrecision" xml:space="preserve">1.09530</text>
<rect x="1167" y="248" width="2" height="1" fill="#000" />
<text x="1172.6" y="252" font-size="10" fill="#000" stroke="#000" stroke-width="0.12" text-anchor="start" textLength="32" lengthAdjust="spacingAndGlyphs"  text-rendering="geometricPrecision" xml:space="preserve">1.08510</text>
<rect x="1167" y="281" width="2" height="1" fill="#000" />
<text x="1172.6" y="285" font-size="10" fill="#000" stroke="#000" stroke-width="0.12" text-anchor="start" textLength="32" lengthAdjust="spacingAndGlyphs"  text-rendering="geometricPrecision" xml:space="preserve">1.07460</text>
<rect x="1167" y="314" width="2" height="1" fill="#000" />
<text x="1172.6" y="318" font-size="10" fill="#000" stroke="#000" stroke-width="0.12" text-anchor="start" textLength="32" lengthAdjust="spacingAndGlyphs"  text-rendering="geometricPrecision" xml:space="preserve">1.06410</text>
<rect x="1167" y="347" width="2" height="1" fill="#000" />
<text x="1172.6" y="351" font-size="10" fill="#000" stroke="#000" stroke-width="0.12" text-anchor="start" textLength="32" lengthAdjust="spacingAndGlyphs"  text-rendering="geometricPrecision" xml:space="preserve">1.05360</text>
<rect x="1167" y="380" width="2" height="1" fill="#000" />
<text x="1172.6" y="384" font-size="10" fill="#000" stroke="#000" stroke-width="0.12" text-anchor="start" textLength="32" lengthAdjust="spacingAndGlyphs"  text-rendering="geometricPrecision" xml:space="preserve">1.04310</text>
<rect x="1167" y="413" width="2" height="1" fill="#000" />
<text x="1172.6" y="417" font-size="10" fill="#000" stroke="#000" stroke-width="0.12" text-anchor="start" textLength="32" lengthAdjust="spacingAndGlyphs"  text-rendering="geometricPrecision" xml:space="preserve">1.03290</text>
<rect x="1168" y="150" width="39" height="11" fill="#ff0000" />
<text x="1172.6" y="159" font-size="10" fill="#fff" stroke="#fff" stroke-width="0.12" text-anchor="start" textLength="32" lengthAdjust="spacingAndGlyphs"  text-rendering="geometricPrecision" xml:space="preserve">1.11422</text>
<rect x="1168" y="208" width="39" height="11" fill="#ff0000" />
<text x="1172.6" y="217" font-size="10" fill="#fff" stroke="#fff" stroke-width="0.12" text-anchor="start" textLength="32" lengthAdjust="spacingAndGlyphs"  text-rendering="geometricPrecision" xml:space="preserve">1.09596</text>
<rect x="1168" y="257" width="39" height="11" fill="#00ff00" />
<text x="1172.6" y="266" font-size="10" fill="#fff" stroke="#fff" stroke-width="0.12" text-anchor="start" textLength="32" lengthAdjust="spacingAndGlyphs"  text-rendering="geometricPrecision" xml:space="preserve">1.08044</text>
<rect x="1168" y="312" width="39" height="11" fill="#0000ff" />
<text x="1172.6" y="321" font-size="10" fill="#fff" stroke="#fff" stroke-width="0.12" text-anchor="start" textLength="32" lengthAdjust="spacingAndGlyphs"  text-rendering="geometricPrecision" xml:space="preserve">1.06297</text>
<rect x="1168" y="367" width="39" height="11" fill="#0000ff" />
<text x="1172.6" y="376" font-size="10" fill="#fff" stroke="#fff" stroke-width="0.12" text-anchor="start" textLength="32" lengthAdjust="spacingAndGlyphs"  text-rendering="geometricPrecision" xml:space="preserve">1.04562</text>
<rect x="1168" y="296" width="39" height="11" fill="#000" />
<text x="1172.6" y="305" font-size="10" fill="#fff" stroke="#fff" stroke-width="0.12" text-anchor="start" textLength="32" lengthAdjust="spacingAndGlyphs"  text-rendering="geometricPrecision" xml:space="preserve">1.06833</text>
<g clip-path="url(#c2)">
<rect x="3" y="434" width="3" height="1" fill="#c0c0c0" />
<rect x="11" y="432" width="3" height="3" fill="#c0c0c0" />
<rect x="19" y="429" width="3" height="6" fill="#c0c0c0" />
<rect x="27" y="426" width="3" height="9" fill="#c0c0c0" />
<rect x="35" y="425" width="3" height="10" fill="#c0c0c0" />
<rect x="43" y="424" width="3" height="11" fill="#c0c0c0" />
<rect x="51" y="423" width="3" height="12" fill="#c0c0c0" />
<rect x="59" y="425" width="3" height="10" fill="#c0c0c0" />
<rect x="67" y="428" width="3" height="7" fill="#c0c0c0" />
<rect x="75" y="431" width="3" height="4" fill="#c0c0c0" />
<rect x="83" y="432" width="3" height="3" fill="#c0c0c0" />
<rect x="91" y="433" width="3" height="2" fill="#c0c0c0" />
<rect x="99" y="434" width="3" height="1" fill="#c0c0c0" />
<rect x="107" y="435" width="3" height="2" fill="#c0c0c0" />
<rect x="115" y="435" width="3" height="5" fill="#c0c0c0" />
<rect x="123" y="435" width="3" height="12" fill="#c0c0c0" />
<rect x="131" y="435" width="3" height="17" fill="#c0c0c0" />
<rect x="139" y="435" width="3" height="20" fill="#c0c0c0" />
<rect x="147" y="435" width="3" height="19" fill="#c0c0c0" />
<rect x="155" y="435" width="3" height="17" fill="#c0c0c0" />
<rect x="163" y="435" width="3" height="15" fill="#c0c0c0" />
<rect x="171" y="435" width="3" height="7" fill="#c0c0c0" />
<rect x="179" y="435" width="3" height="1" fill="#c0c0c0" />
<rect x="187" y="430" width="3" height="5" fill="#c0c0c0" />
<rect x="195" y="426" width="3" height="9" fill="#c0c0c0" />
<rect x="203" y="425" width="3" height="10" fill="#c0c0c0" />
<rect x="211" y="423" width="3" height="12" fill="#c0c0c0" />
<rect x="219" y="423" width="3" height="12" fill="#c0c0c0" />
<rect x="227" y="425" width="3" height="10" fill="#c0c0c0" />
<rect x="235" y="427" width="3" height="8" fill="#c0c0c0" />
<rect x="243" y="429" width="3" height="6" fill="#c0c0c0" />
<rect x="251" y="430" width="3" height="5" fill="#c0c0c0" />
<rect x="259" y="430" width="3" height="5" fill="#c0c0c0" />
<rect x="267" y="430" width="3" height="5" fill="#c0c0c0" />
<rect x="275" y="431" width="3" height="4" fill="#c0c0c0" />
<rect x="283" y="433" width="3" height="2" fill="#c0c0c0" />
<rect x="291" y="435" width="3" height="1" fill="#c0c0c0" />
<rect x="299" y="435" width="3" height="1" fill="#c0c0c0" />
<rect x="307" y="435" width="3" height="3" fill="#c0c0c0" />
<rect x="315" y="435" width="3" height="8" fill="#c0c0c0" />
<rect x="323" y="435" width="3" height="9" fill="#c0c0c0" />
<rect x="331" y="435" width="3" height="13" fill="#c0c0c0" />
<rect x="339" y="435" width="3" height="15" fill="#c0c0c0" />
<rect x="347" y="435" width="3" height="19" fill="#c0c0c0" />
<rect x="355" y="435" width="3" height="23" fill="#c0c0c0" />
<rect x="363" y="435" width="3" height="27" fill="#c0c0c0" />
<rect x="371" y="435" width="3" height="36" fill="#c0c0c0" />
<rect x="379" y="435" width="3" height="43" fill="#c0c0c0" />
<rect x="387" y="435" width="3" height="49" fill="#c0c0c0" />
<rect x="395" y="435" width="3" height="52" fill="#c0c0c0" />
<rect x="403" y="435" width="3" height="48" fill="#c0c0c0" />
<rect x="411" y="435" width="3" height="46" fill="#c0c0c0" />
<rect x="419" y="435" width="3" height="47" fill="#c0c0c0" />
<rect x="427" y="435" width="3" height="47" fill="#c0c0c0" />
<rect x="435" y="435" width="3" height="45" fill="#c0c0c0" />
<rect x="443" y="435" width="3" height="44" fill="#c0c0c0" />
<rect x="451" y="435" width="3" height="40" fill="#c0c0c0" />
<rect x="459" y="435" width="3" height="34" fill="#c0c0c0" />
<rect x="467" y="435" width="3" height="30" fill="#c0c0c0" />
<rect x="475" y="435" width="3" height="27" fill="#c0c0c0" />
<rect x="483" y="435" width="3" height="25" fill="#c0c0c0" />
<rect x="491" y="435" width="3" height="23" fill="#c0c0c0" />
<rect x="499" y="435" width="3" height="22" fill="#c0c0c0" />
<rect x="507" y="435" width="3" height="21" fill="#c0c0c0" />
<rect x="515" y="435" width="3" height="21" fill="#c0c0c0" />
<rect x="523" y="435" width="3" height="21" fill="#c0c0c0" />
<rect x="531" y="435" width="3" height="20" fill="#c0c0c0" />
<rect x="539" y="435" width="3" height="15" fill="#c0c0c0" />
<rect x="547" y="435" width="3" height="9" fill="#c0c0c0" />
<rect x="555" y="435" width="3" height="7" fill="#c0c0c0" />
<rect x="563" y="435" width="3" height="7" fill="#c0c0c0" />
<rect x="571" y="435" width="3" height="7" fill="#c0c0c0" />
<rect x="579" y="435" width="3" height="9" fill="#c0c0c0" />
<rect x="587" y="435" width="3" height="13" fill="#c0c0c0" />
<rect x="595" y="435" width="3" height="16" fill="#c0c0c0" />
<rect x="603" y="435" width="3" height="20" fill="#c0c0c0" />
<rect x="611" y="435" width="3" height="22" fill="#c0c0c0" />
<rect x="619" y="435" width="3" height="23" fill="#c0c0c0" />
<rect x="627" y="435" width="3" height="24" fill="#c0c0c0" />
<rect x="635" y="435" width="3" height="26" fill="#c0c0c0" />
<rect x="643" y="435" width="3" height="25" fill="#c0c0c0" />
<rect x="651" y="435" width="3" height="27" fill="#c0c0c0" />
<rect x="659" y="435" width="3" height="29" fill="#c0c0c0" />
<rect x="667" y="435" width="3" height="29" fill="#c0c0c0" />
<rect x="675" y="435" width="3" height="31" fill="#c0c0c0" />
<rect x="683" y="435" width="3" height="31" fill="#c0c0c0" />
<rect x="691" y="435" width="3" height="29" fill="#c0c0c0" />
<rect x="699" y="435" width="3" height="28" fill="#c0c0c0" />
<rect x="707" y="435" width="3" height="28" fill="#c0c0c0" />
<rect x="715" y="435" width="3" height="28" fill="#c0c0c0" />
<rect x="723" y="435" width="3" height="29" fill="#c0c0c0" />
<rect x="731" y="435" width="3" height="33" fill="#c0c0c0" />
<rect x="739" y="435" width="3" height="39" fill="#c0c0c0" />
<rect x="747" y="435" width="3" height="46" fill="#c0c0c0" />
<rect x="755" y="435" width="3" height="47" fill="#c0c0c0" />
<rect x="763" y="435" width="3" height="50" fill="#c0c0c0" />
<rect x="771" y="435" width="3" height="52" fill="#c0c0c0" />
<rect x="779" y="435" width="3" height="52" fill="#c0c0c0" />
<rect x="787" y="435" width="3" height="49" fill="#c0c0c0" />
<rect x="795" y="435" width="3" height="48" fill="#c0c0c0" />
<rect x="803" y="435" width="3" height="47" fill="#c0c0c0" />
<rect x="811" y="435" width="3" height="46" fill="#c0c0c0" />
<rect x="819" y="435" width="3" height="44" fill="#c0c0c0" />
<rect x="827" y="435" width="3" height="43" fill="#c0c0c0" />
<rect x="835" y="435" width="3" height="42" fill="#c0c0c0" />
<rect x="843" y="435" width="3" height="45" fill="#c0c0c0" />
<rect x="851" y="435" width="3" height="47" fill="#c0c0c0" />
<rect x="859" y="435" width="3" height="48" fill="#c0c0c0" />
<rect x="867" y="435" width="3" height="47" fill="#c0c0c0" />
<rect x="875" y="435" width="3" height="41" fill="#c0c0c0" />
<rect x="883" y="435" width="3" height="39" fill="#c0c0c0" />
<rect x="891" y="435" width="3" height="33" fill="#c0c0c0" />
<rect x="899" y="435" width="3" height="30" fill="#c0c0c0" />
<rect x="907" y="435" width="3" height="26" fill="#c0c0c0" />
<rect x="915" y="435" width="3" height="18" fill="#c0c0c0" />
<path fill="#ff0000" d="M245 426h26v1h-26zM60 427h25v1h-25zM239 427h6v1h-6zM271 427h11v1h-11zM51 428h9v1h-9zM85 428h24v1h-24zM236 428h3v1h-3zM282 428h5v1h-5zM42 429h9v1h-9zM109 429h6v1h-6zM233 429h3v1h-3zM287 429h5v1h-5zM36 430h6v1h-6zM115 430h4v1h-4zM230 430h3v1h-3zM292 430h5v1h-5zM32 431h4v1h-4zM119 431h2v1h-2zM228 431h2v1h-2zM297 431h6v1h-6zM29 432h3v1h-3zM121 432h3v1h-3zM225 432h3v1h-3zM303 432h6v1h-6zM25 433h4v1h-4zM124 433h3v1h-3zM222 433h3v1h-3zM309 433h7v1h-7zM4 434h21v1h-21zM127 434h2v1h-2zM219 434h3v1h-3zM316 434h6v1h-6zM129 435h3v1h-3zM216 435h3v1h-3zM322 435h5v1h-5zM132 436h3v1h-3zM214 436h2v1h-2zM327 436h5v1h-5zM135 437h2v1h-2zM211 437h3v1h-3zM332 437h5v1h-5zM137 438h3v1h-3zM208 438h3v1h-3zM337 438h4v1h-4zM140 439h3v1h-3zM205 439h3v1h-3zM341 439h3v1h-3zM143 440h2v1h-2zM203 440h2v1h-2zM344 440h4v1h-4zM145 441h3v1h-3zM200 441h3v1h-3zM348 441h3v1h-3zM148 442h4v1h-4zM197 442h3v1h-3zM351 442h3v1h-3zM152 443h3v1h-3zM195 443h2v1h-2zM354 443h4v1h-4zM155 444h4v1h-4zM192 444h3v1h-3zM358 444h3v1h-3zM159 445h4v1h-4zM189 445h3v1h-3zM361 445h2v1h-2zM591 445h20v1h-20zM163 446h5v1h-5zM186 446h3v1h-3zM363 446h2v1h-2zM583 446h8v1h-8zM611 446h4v1h-4zM168 447h18v1h-18zM365 447h2v1h-2zM577 447h6v1h-6zM615 447h5v1h-5zM367 448h2v1h-2zM572 448h5v1h-5zM620 448h4v1h-4zM369 449h3v1h-3zM567 449h5v1h-5zM624 449h5v1h-5zM372 450h2v1h-2zM562 450h5v1h-5zM629 450h5v1h-5zM374 451h2v1h-2zM557 451h5v1h-5zM634 451h4v1h-4zM376 452h2v1h-2zM553 452h4v1h-4zM638 452h5v1h-5zM378 453h2v1h-2zM549 453h4v1h-4zM643 453h4v1h-4zM380 454h2v1h-2zM545 454h4v1h-4zM647 454h4v1h-4zM382 455h2v1h-2zM541 455h4v1h-4zM651 455h4v1h-4zM384 456h1v1h-1zM537 456h4v1h-4zM655 456h5v1h-5zM385 457h2v1h-2zM532 457h5v1h-5zM660 457h4v1h-4zM387 458h1v1h-1zM527 458h5v1h-5zM664 458h4v1h-4zM388 459h2v1h-2zM522 459h5v1h-5zM668 459h6v1h-6zM390 460h2v1h-2zM518 460h4v1h-4zM674 460h7v1h-7zM392 461h1v1h-1zM515 461h3v1h-3zM681 461h8v1h-8zM393 462h2v1h-2zM512 462h3v1h-3zM689 462h40v1h-40zM395 463h1v1h-1zM509 463h3v1h-3zM729 463h12v1h-12zM396 464h2v1h-2zM507 464h2v1h-2zM741 464h4v1h-4zM398 465h2v1h-2zM504 465h3v1h-3zM745 465h4v1h-4zM400 466h2v1h-2zM501 466h3v1h-3zM749 466h4v1h-4zM402 467h2v1h-2zM498 467h3v1h-3zM753 467h4v1h-4zM404 468h2v1h-2zM494 468h4v1h-4zM757 468h4v1h-4zM406 469h2v1h-2zM491 469h3v1h-3zM761 469h3v1h-3zM408 470h2v1h-2zM488 470h3v1h-3zM764 470h3v1h-3zM410 471h3v1h-3zM484 471h4v1h-4zM767 471h2v1h-2zM914 471h2v1h-2zM413 472h2v1h-2zM481 472h3v1h-3zM769 472h3v1h-3zM911 472h3v1h-3zM415 473h2v1h-2zM478 473h3v1h-3zM772 473h3v1h-3zM908 473h3v1h-3zM417 474h2v1h-2zM475 474h3v1h-3zM775 474h3v1h-3zM905 474h3v1h-3zM419 475h3v1h-3zM472 475h3v1h-3zM778 475h3v1h-3zM900 475h5v1h-5zM422 476h3v1h-3zM468 476h4v1h-4zM781 476h4v1h-4zM894 476h6v1h-6zM425 477h3v1h-3zM465 477h3v1h-3zM785 477h4v1h-4zM885 477h9v1h-9zM428 478h4v1h-4zM462 478h3v1h-3zM789 478h4v1h-4zM875 478h10v1h-10zM432 479h3v1h-3zM457 479h5v1h-5zM793 479h4v1h-4zM857 479h18v1h-18zM435 480h7v1h-7zM451 480h6v1h-6zM797 480h4v1h-4zM841 480h16v1h-16zM442 481h9v1h-9zM801 481h4v1h-4zM834 481h7v1h-7zM805 482h4v1h-4zM815 482h19v1h-19zM809 483h6v1h-6z"/>
</g>
<text x="8.6" y="431" font-size="10" fill="#000" stroke="#000" stroke-width="0.12" text-anchor="start" textLength="152.5" lengthAdjust="spacingAndGlyphs"  text-rendering="geometricPrecision" xml:space="preserve">MACD(12,26,9) -0.003746 -0.007885</text>
<rect x="1167" y="420" width="1" height="1" fill="#000" />
<rect x="1167" y="435" width="2" height="1" fill="#000" />
<rect x="1167" y="489" width="1" height="1" fill="#000" />
<text x="1170.4" y="429" font-size="10" fill="#000" stroke="#000" stroke-width="0.12" text-anchor="start" textLength="37.5" lengthAdjust="spacingAndGlyphs"  text-rendering="geometricPrecision" xml:space="preserve">0.003408</text>
<text x="1170.4" y="439" font-size="10" fill="#000" stroke="#000" stroke-width="0.12" text-anchor="start" textLength="17.6" lengthAdjust="spacingAndGlyphs"  text-rendering="geometricPrecision" xml:space="preserve">0.00</text>
<text x="1170.0" y="487.3" font-size="10" fill="#000" stroke="#000" stroke-width="0.12" text-anchor="start" textLength="40.5" lengthAdjust="spacingAndGlyphs"  text-rendering="geometricPrecision" xml:space="preserve">-0.012058</text>
<g clip-path="url(#c3)">
<line x1="4" x2="1166" y1="515.5" y2="515.5" stroke="#c0c0c0" stroke-dasharray="3 3" stroke-dashoffset="5"/>
<line x1="4" x2="1166" y1="544.5" y2="544.5" stroke="#c0c0c0" stroke-dasharray="3 3" stroke-dashoffset="5"/>
<path fill="#1e90ff" d="M24 520h5v1h-5zM176 520h22v1h-22zM20 521h4v1h-4zM29 521h2v1h-2zM172 521h4v1h-4zM198 521h2v1h-2zM18 522h2v1h-2zM31 522h2v1h-2zM171 522h1v1h-1zM200 522h3v1h-3zM16 523h2v1h-2zM33 523h2v1h-2zM170 523h1v1h-1zM203 523h13v1h-13zM547 523h2v1h-2zM15 524h1v1h-1zM35 524h18v1h-18zM169 524h1v1h-1zM216 524h5v1h-5zM544 524h3v1h-3zM549 524h1v1h-1zM13 525h2v1h-2zM53 525h1v1h-1zM168 525h1v1h-1zM221 525h1v1h-1zM542 525h2v1h-2zM550 525h2v1h-2zM11 526h2v1h-2zM54 526h1v1h-1zM167 526h1v1h-1zM222 526h1v1h-1zM540 526h2v1h-2zM552 526h1v1h-1zM915 526h2v1h-2zM8 527h3v1h-3zM55 527h1v1h-1zM166 527h1v1h-1zM223 527h1v1h-1zM539 527h1v1h-1zM553 527h1v1h-1zM913 527h2v1h-2zM6 528h2v1h-2zM56 528h1v1h-1zM165 528h1v1h-1zM224 528h2v1h-2zM235 528h2v1h-2zM256 528h14v1h-14zM538 528h1v1h-1zM554 528h2v1h-2zM911 528h2v1h-2zM4 529h2v1h-2zM57 529h1v1h-1zM162 529h3v1h-3zM226 529h1v1h-1zM232 529h3v1h-3zM237 529h2v1h-2zM251 529h5v1h-5zM270 529h2v1h-2zM459 529h3v1h-3zM537 529h1v1h-1zM556 529h2v1h-2zM909 529h2v1h-2zM58 530h1v1h-1zM83 530h13v1h-13zM158 530h4v1h-4zM227 530h1v1h-1zM230 530h2v1h-2zM239 530h1v1h-1zM249 530h2v1h-2zM272 530h3v1h-3zM456 530h3v1h-3zM462 530h2v1h-2zM536 530h1v1h-1zM558 530h4v1h-4zM568 530h5v1h-5zM892 530h4v1h-4zM904 530h5v1h-5zM59 531h1v1h-1zM64 531h6v1h-6zM80 531h3v1h-3zM96 531h6v1h-6zM155 531h3v1h-3zM228 531h2v1h-2zM240 531h2v1h-2zM247 531h2v1h-2zM275 531h5v1h-5zM298 531h6v1h-6zM454 531h2v1h-2zM464 531h3v1h-3zM535 531h1v1h-1zM562 531h6v1h-6zM573 531h2v1h-2zM890 531h2v1h-2zM896 531h8v1h-8zM60 532h4v1h-4zM70 532h4v1h-4zM78 532h2v1h-2zM102 532h4v1h-4zM153 532h2v1h-2zM242 532h2v1h-2zM245 532h2v1h-2zM280 532h8v1h-8zM294 532h4v1h-4zM304 532h5v1h-5zM452 532h2v1h-2zM467 532h13v1h-13zM488 532h6v1h-6zM534 532h1v1h-1zM575 532h1v1h-1zM876 532h1v1h-1zM889 532h1v1h-1zM74 533h4v1h-4zM106 533h3v1h-3zM151 533h2v1h-2zM244 533h1v1h-1zM288 533h6v1h-6zM309 533h1v1h-1zM450 533h2v1h-2zM480 533h8v1h-8zM494 533h4v1h-4zM533 533h1v1h-1zM576 533h2v1h-2zM875 533h1v1h-1zM877 533h2v1h-2zM888 533h1v1h-1zM109 534h2v1h-2zM149 534h2v1h-2zM310 534h1v1h-1zM324 534h1v1h-1zM404 534h2v1h-2zM448 534h2v1h-2zM498 534h14v1h-14zM528 534h5v1h-5zM578 534h2v1h-2zM874 534h1v1h-1zM879 534h2v1h-2zM886 534h2v1h-2zM111 535h1v1h-1zM148 535h1v1h-1zM311 535h1v1h-1zM323 535h1v1h-1zM325 535h2v1h-2zM403 535h1v1h-1zM406 535h4v1h-4zM447 535h1v1h-1zM512 535h16v1h-16zM580 535h2v1h-2zM644 535h1v1h-1zM692 535h10v1h-10zM873 535h1v1h-1zM881 535h2v1h-2zM885 535h1v1h-1zM112 536h2v1h-2zM147 536h1v1h-1zM312 536h1v1h-1zM322 536h1v1h-1zM327 536h1v1h-1zM339 536h2v1h-2zM403 536h1v1h-1zM410 536h3v1h-3zM445 536h2v1h-2zM582 536h2v1h-2zM642 536h2v1h-2zM645 536h2v1h-2zM690 536h2v1h-2zM702 536h2v1h-2zM714 536h3v1h-3zM788 536h1v1h-1zM872 536h1v1h-1zM883 536h2v1h-2zM114 537h2v1h-2zM146 537h1v1h-1zM312 537h1v1h-1zM320 537h2v1h-2zM328 537h2v1h-2zM336 537h3v1h-3zM341 537h2v1h-2zM402 537h1v1h-1zM413 537h2v1h-2zM440 537h5v1h-5zM584 537h3v1h-3zM641 537h1v1h-1zM647 537h2v1h-2zM688 537h2v1h-2zM704 537h3v1h-3zM710 537h4v1h-4zM717 537h2v1h-2zM787 537h1v1h-1zM789 537h2v1h-2zM871 537h1v1h-1zM116 538h1v1h-1zM145 538h1v1h-1zM313 538h1v1h-1zM319 538h1v1h-1zM330 538h2v1h-2zM334 538h2v1h-2zM343 538h2v1h-2zM401 538h1v1h-1zM415 538h2v1h-2zM432 538h8v1h-8zM587 538h11v1h-11zM610 538h14v1h-14zM640 538h1v1h-1zM649 538h2v1h-2zM687 538h1v1h-1zM707 538h3v1h-3zM719 538h1v1h-1zM786 538h1v1h-1zM791 538h2v1h-2zM818 538h6v1h-6zM870 538h1v1h-1zM117 539h1v1h-1zM144 539h1v1h-1zM314 539h1v1h-1zM318 539h1v1h-1zM332 539h2v1h-2zM345 539h2v1h-2zM401 539h1v1h-1zM417 539h2v1h-2zM424 539h8v1h-8zM598 539h4v1h-4zM606 539h4v1h-4zM624 539h6v1h-6zM638 539h2v1h-2zM651 539h5v1h-5zM664 539h6v1h-6zM685 539h2v1h-2zM720 539h2v1h-2zM785 539h1v1h-1zM793 539h2v1h-2zM800 539h8v1h-8zM814 539h4v1h-4zM824 539h8v1h-8zM869 539h1v1h-1zM118 540h2v1h-2zM143 540h1v1h-1zM315 540h1v1h-1zM317 540h1v1h-1zM347 540h5v1h-5zM400 540h1v1h-1zM419 540h5v1h-5zM602 540h4v1h-4zM630 540h4v1h-4zM637 540h1v1h-1zM656 540h8v1h-8zM670 540h4v1h-4zM680 540h5v1h-5zM722 540h2v1h-2zM784 540h1v1h-1zM795 540h5v1h-5zM808 540h6v1h-6zM832 540h5v1h-5zM867 540h2v1h-2zM120 541h1v1h-1zM142 541h1v1h-1zM316 541h1v1h-1zM352 541h8v1h-8zM399 541h1v1h-1zM634 541h3v1h-3zM674 541h6v1h-6zM724 541h2v1h-2zM783 541h1v1h-1zM837 541h2v1h-2zM864 541h3v1h-3zM121 542h1v1h-1zM141 542h1v1h-1zM360 542h5v1h-5zM399 542h1v1h-1zM726 542h2v1h-2zM782 542h1v1h-1zM839 542h1v1h-1zM862 542h2v1h-2zM122 543h2v1h-2zM136 543h5v1h-5zM365 543h1v1h-1zM398 543h1v1h-1zM728 543h3v1h-3zM756 543h4v1h-4zM781 543h1v1h-1zM840 543h2v1h-2zM850 543h12v1h-12zM124 544h12v1h-12zM366 544h2v1h-2zM397 544h1v1h-1zM731 544h3v1h-3zM754 544h2v1h-2zM760 544h8v1h-8zM776 544h5v1h-5zM842 544h2v1h-2zM846 544h4v1h-4zM368 545h1v1h-1zM397 545h1v1h-1zM734 545h2v1h-2zM753 545h1v1h-1zM768 545h8v1h-8zM844 545h2v1h-2zM369 546h1v1h-1zM395 546h2v1h-2zM736 546h3v1h-3zM752 546h1v1h-1zM370 547h2v1h-2zM392 547h3v1h-3zM739 547h3v1h-3zM750 547h2v1h-2zM372 548h4v1h-4zM390 548h2v1h-2zM742 548h4v1h-4zM749 548h1v1h-1zM376 549h14v1h-14zM746 549h3v1h-3z"/>
</g>
<text x="8.5" y="505" font-size="10" fill="#000" stroke="#000" stroke-width="0.12" text-anchor="start" textLength="67" lengthAdjust="spacingAndGlyphs"  text-rendering="geometricPrecision" xml:space="preserve">RSI(14) 56.6905</text>
<rect x="1167" y="494" width="1" height="1" fill="#000" />
<rect x="1167" y="565" width="1" height="1" fill="#000" />
<text x="1170.4" y="503" font-size="10" fill="#000" stroke="#000" stroke-width="0.12" text-anchor="start" textLength="14.5" lengthAdjust="spacingAndGlyphs"  text-rendering="geometricPrecision" xml:space="preserve">100</text>
<text x="1169.8" y="519" font-size="10" fill="#000" stroke="#000" stroke-width="0.12" text-anchor="start" textLength="9.8" lengthAdjust="spacingAndGlyphs"  text-rendering="geometricPrecision" xml:space="preserve">70</text>
<text x="1169.8" y="548" font-size="10" fill="#000" stroke="#000" stroke-width="0.12" text-anchor="start" textLength="9.8" lengthAdjust="spacingAndGlyphs"  text-rendering="geometricPrecision" xml:space="preserve">30</text>
<text x="1169.8" y="563" font-size="10" fill="#000" stroke="#000" stroke-width="0.12" text-anchor="start" textLength="4.9" lengthAdjust="spacingAndGlyphs"  text-rendering="geometricPrecision" xml:space="preserve">0</text>
<rect x="4" y="567" width="1" height="3" fill="#000" />
<text x="3.3" y="579" font-size="10" fill="#000" stroke="#000" stroke-width="0.12" text-anchor="start" textLength="49.1" lengthAdjust="spacingAndGlyphs"  text-rendering="geometricPrecision" xml:space="preserve">10 Jan 2022</text>
<rect x="68" y="567" width="1" height="3" fill="#000" />
<text x="67.9" y="579" font-size="10" fill="#000" stroke="#000" stroke-width="0.12" text-anchor="start" textLength="48.8" lengthAdjust="spacingAndGlyphs"  text-rendering="geometricPrecision" xml:space="preserve">19 Jan 2022</text>
<rect x="132" y="567" width="1" height="3" fill="#000" />
<text x="131.6" y="579" font-size="10" fill="#000" stroke="#000" stroke-width="0.12" text-anchor="start" textLength="49.0" lengthAdjust="spacingAndGlyphs"  text-rendering="geometricPrecision" xml:space="preserve">28 Jan 2022</text>
<rect x="196" y="567" width="1" height="3" fill="#000" />
<text x="195.5" y="579" font-size="10" fill="#000" stroke="#000" stroke-width="0.12" text-anchor="start" textLength="46.4" lengthAdjust="spacingAndGlyphs"  text-rendering="geometricPrecision" xml:space="preserve">7 Feb 2022</text>
<rect x="260" y="567" width="1" height="3" fill="#000" />
<text x="259.5" y="579" font-size="10" fill="#000" stroke="#000" stroke-width="0.12" text-anchor="start" textLength="51.0" lengthAdjust="spacingAndGlyphs"  text-rendering="geometricPrecision" xml:space="preserve">16 Feb 2022</text>
<rect x="324" y="567" width="1" height="3" fill="#000" />
<text x="323.8" y="579" font-size="10" fill="#000" stroke="#000" stroke-width="0.12" text-anchor="start" textLength="50.7" lengthAdjust="spacingAndGlyphs"  text-rendering="geometricPrecision" xml:space="preserve">25 Feb 2022</text>
<rect x="388" y="567" width="1" height="3" fill="#000" />
<text x="387.3" y="579" font-size="10" fill="#000" stroke="#000" stroke-width="0.12" text-anchor="start" textLength="46.4" lengthAdjust="spacingAndGlyphs"  text-rendering="geometricPrecision" xml:space="preserve">7 Mar 2022</text>
<rect x="452" y="567" width="1" height="3" fill="#000" />
<text x="451.3" y="579" font-size="10" fill="#000" stroke="#000" stroke-width="0.12" text-anchor="start" textLength="51.3" lengthAdjust="spacingAndGlyphs"  text-rendering="geometricPrecision" xml:space="preserve">16 Mar 2022</text>
<rect x="516" y="567" width="1" height="3" fill="#000" />
<text x="515.2" y="579" font-size="10" fill="#000" stroke="#000" stroke-width="0.12" text-anchor="start" textLength="51.0" lengthAdjust="spacingAndGlyphs"  text-rendering="geometricPrecision" xml:space="preserve">25 Mar 2022</text>
<rect x="580" y="567" width="1" height="3" fill="#000" />
<text x="578.8" y="579" font-size="10" fill="#000" stroke="#000" stroke-width="0.12" text-anchor="start" textLength="45.8" lengthAdjust="spacingAndGlyphs"  text-rendering="geometricPrecision" xml:space="preserve">4 Apr 2022</text>
<rect x="644" y="567" width="1" height="3" fill="#000" />
<text x="643.5" y="579" font-size="10" fill="#000" stroke="#000" stroke-width="0.12" text-anchor="start" textLength="49.7" lengthAdjust="spacingAndGlyphs"  text-rendering="geometricPrecision" xml:space="preserve">13 Apr 2022</text>
<rect x="708" y="567" width="1" height="3" fill="#000" />
<text x="707.4" y="579" font-size="10" fill="#000" stroke="#000" stroke-width="0.12" text-anchor="start" textLength="50.4" lengthAdjust="spacingAndGlyphs"  text-rendering="geometricPrecision" xml:space="preserve">22 Apr 2022</text>
<rect x="772" y="567" width="1" height="3" fill="#000" />
<text x="770.9" y="579" font-size="10" fill="#000" stroke="#000" stroke-width="0.12" text-anchor="start" textLength="49.7" lengthAdjust="spacingAndGlyphs"  text-rendering="geometricPrecision" xml:space="preserve">2 May 2022</text>
<rect x="836" y="567" width="1" height="3" fill="#000" />
<text x="835.6" y="579" font-size="10" fill="#000" stroke="#000" stroke-width="0.12" text-anchor="start" textLength="53.6" lengthAdjust="spacingAndGlyphs"  text-rendering="geometricPrecision" xml:space="preserve">11 May 2022</text>
<rect x="900" y="567" width="1" height="3" fill="#000" />
<text x="899.2" y="579" font-size="10" fill="#000" stroke="#000" stroke-width="0.12" text-anchor="start" textLength="54.7" lengthAdjust="spacingAndGlyphs"  text-rendering="geometricPrecision" xml:space="preserve">20 May 2022</text>
<rect x="0" y="587" width="1207" height="29" fill="#f0f0f0" />
<rect x="0" y="587" width="1207" height="1" fill="#e6e6e6" />
<rect x="0" y="588" width="1207" height="1" fill="#f4f4f4" />
<rect x="106" y="588" width="106" height="19" fill="#fff" />
<rect x="0" y="589" width="106" height="1" fill="#000" />
<rect x="212" y="589" width="995" height="1" fill="#000" />
<rect x="105" y="589" width="1" height="19" fill="#000" />
<rect x="212" y="589" width="1" height="19" fill="#000" />
<rect x="105" y="607" width="108" height="1" fill="#000" />
<rect x="0" y="589" width="1" height="19" fill="#696969" />
<rect x="1" y="590" width="103" height="1" fill="#fafafa" />
<rect x="104" y="590" width="1" height="18" fill="#fcfcfc" />
<rect x="1" y="590" width="1" height="18" fill="#fcfcfc" />
<rect x="213" y="590" width="994" height="1" fill="#fafafa" />
<rect x="213" y="590" width="1" height="18" fill="#fcfcfc" />
<rect x="104" y="608" width="1103" height="1" fill="#fafafa" />
<rect x="0" y="609" width="1207" height="3" fill="#f0f0f0" />
<rect x="0" y="612" width="1207" height="1" fill="#d9d9d9" />
<rect x="0" y="613" width="1207" height="1" fill="#a0a0a0" />
<rect x="0" y="614" width="1207" height="2" fill="#fbfbfb" />
<text x="16.3" y="604" font-size="13" fill="#7a7a7a" stroke="#7a7a7a" stroke-width="0" text-anchor="start" textLength="77.7" lengthAdjust="spacingAndGlyphs"  text-rendering="geometricPrecision" xml:space="preserve">USDX,Weekly</text>
<text x="116.6" y="604" font-size="13" fill="#000" stroke="#000" stroke-width="0" text-anchor="start" textLength="84.8" lengthAdjust="spacingAndGlyphs"  text-rendering="geometricPrecision" xml:space="preserve">EURUSD-,Daily</text>
<text x="223.3" y="604" font-size="13" fill="#7a7a7a" stroke="#7a7a7a" stroke-width="0" text-anchor="start" textLength="86.4" lengthAdjust="spacingAndGlyphs"  text-rendering="geometricPrecision" xml:space="preserve">AUDUSD-,Daily</text>
<text x="333.4" y="604" font-size="13" fill="#7a7a7a" stroke="#7a7a7a" stroke-width="0" text-anchor="start" textLength="83.5" lengthAdjust="spacingAndGlyphs"  text-rendering="geometricPrecision" xml:space="preserve">USDCHF-,Daily</text>
<text x="440.2" y="604" font-size="13" fill="#7a7a7a" stroke="#7a7a7a" stroke-width="0" text-anchor="start" textLength="85.6" lengthAdjust="spacingAndGlyphs"  text-rendering="geometricPrecision" xml:space="preserve">USDCAD-,Daily</text>
<text x="549" y="604" font-size="13" fill="#7a7a7a" stroke="#7a7a7a" stroke-width="0" text-anchor="start" textLength="88" lengthAdjust="spacingAndGlyphs"  text-rendering="geometricPrecision" xml:space="preserve">USDCNH-,Daily</text>
<text x="660.3" y="604" font-size="13" fill="#7a7a7a" stroke="#7a7a7a" stroke-width="0" text-anchor="start" textLength="85.6" lengthAdjust="spacingAndGlyphs"  text-rendering="geometricPrecision" xml:space="preserve">XAUUSD-,Daily</text>
<text x="768.2" y="604" font-size="13" fill="#7a7a7a" stroke="#7a7a7a" stroke-width="0" text-anchor="start" textLength="68.6" lengthAdjust="spacingAndGlyphs"  text-rendering="geometricPrecision" xml:space="preserve">UKOil-,Daily</text>
<text x="860.7" y="604" font-size="13" fill="#7a7a7a" stroke="#7a7a7a" stroke-width="0" text-anchor="start" textLength="76.9" lengthAdjust="spacingAndGlyphs"  text-rendering="geometricPrecision" xml:space="preserve">DJ30-,Weekly</text>
<text x="960.6" y="604" font-size="13" fill="#7a7a7a" stroke="#7a7a7a" stroke-width="0" text-anchor="start" textLength="60.8" lengthAdjust="spacingAndGlyphs"  text-rendering="geometricPrecision" xml:space="preserve">UK100-,H1</text>
<text x="1045.8" y="604" font-size="13" fill="#7a7a7a" stroke="#7a7a7a" stroke-width="0" text-anchor="start" textLength="66.8" lengthAdjust="spacingAndGlyphs"  text-rendering="geometricPrecision" xml:space="preserve">USOil-,Daily</text>
<clipPath id="ct"><rect x="1130" y="590" width="45.7" height="18"/></clipPath>
<text x="1135.4" y="604" font-size="13" fill="#7a7a7a" stroke="#7a7a7a" stroke-width="0" text-anchor="start" textLength="65.2" lengthAdjust="spacingAndGlyphs" clip-path="url(#ct)" text-rendering="geometricPrecision" xml:space="preserve">HK50-,Daily</text>
<rect x="321" y="592" width="1" height="14" fill="#7a7a7a" />
<rect x="429" y="592" width="1" height="14" fill="#7a7a7a" />
<rect x="537" y="592" width="1" height="14" fill="#7a7a7a" />
<rect x="649" y="592" width="1" height="14" fill="#7a7a7a" />
<rect x="757" y="592" width="1" height="14" fill="#7a7a7a" />
<rect x="849" y="592" width="1" height="14" fill="#7a7a7a" />
<rect x="949" y="592" width="1" height="14" fill="#7a7a7a" />
<rect x="1034" y="592" width="1" height="14" fill="#7a7a7a" />
<rect x="1125" y="592" width="1" height="14" fill="#7a7a7a" />
<path d="M1185.3 595v6.6l-3.6-3.3z" fill="#a0a0a0" shape-rendering="auto"/>
<path d="M1200.6 595v6.6l3.6-3.3z" fill="#000" shape-rendering="auto"/>
</svg>
</body></html>
